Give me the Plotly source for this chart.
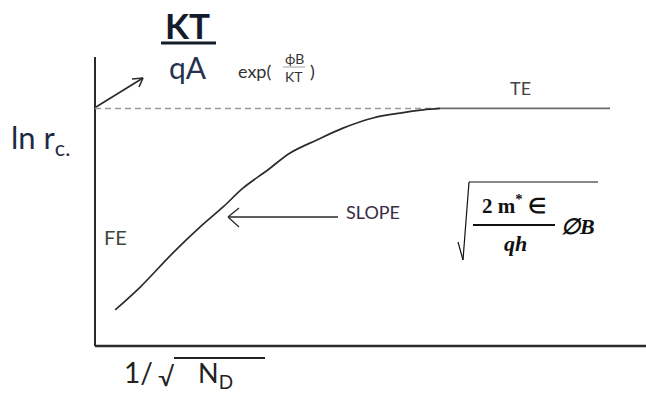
import plotly.graph_objects as go

# ---- data (arbitrary units: x = 1/sqrt(N_D), y = ln r_c) ----
fe_x = [0.37, 0.83, 1.43, 1.93, 2.35, 2.72, 3.17, 3.58, 4.07, 4.55, 5.10, 5.60, 6.02, 6.33]
fe_y = [1.25, 2.04, 3.22, 4.12, 4.81, 5.47, 6.09, 6.68, 7.13, 7.54, 7.89, 8.06, 8.17, 8.22]
te_x = [6.33, 9.45]
te_y = [8.22, 8.22]
ref_x = [0.0, 6.33]
ref_y = [8.22, 8.22]
axis_x_end = 10.2
axis_y_end = 10.0

W, H = 646, 394
SANS = "Lato"
SERIF = "Liberation Serif"


def px(x, y):
    """pixel position -> paper coordinates"""
    return x / W, 1 - y / H


fig = go.Figure()

# axes drawn as lines from the origin
fig.add_trace(go.Scatter(x=[0, 0], y=[axis_y_end, 0], mode="lines",
                         line=dict(color="#2a2a2a", width=2), hoverinfo="skip"))
fig.add_trace(go.Scatter(x=[0, axis_x_end], y=[0, 0], mode="lines",
                         line=dict(color="#2a2a2a", width=2.5), hoverinfo="skip"))

# saturation reference level (dashed) and thermionic plateau
fig.add_trace(go.Scatter(x=ref_x, y=ref_y, mode="lines",
                         line=dict(color="#9a9a9a", width=1.5, dash="6px,4px"), hoverinfo="skip"))
fig.add_trace(go.Scatter(x=te_x, y=te_y, mode="lines",
                         line=dict(color="#6a6a6a", width=1.8), hoverinfo="skip"))
# field-emission branch
fig.add_trace(go.Scatter(x=fe_x, y=fe_y, mode="lines", line_shape="spline",
                         line=dict(color="#2b2b2b", width=1.7), hoverinfo="skip"))

shapes = []
annotations = []


def seg(x0, y0, x1, y1, color="#2a2a2a", width=1.5):
    a, b = px(x0, y0)
    c, d = px(x1, y1)
    shapes.append(dict(type="line", xref="paper", yref="paper", x0=a, y0=b, x1=c, y1=d,
                       line=dict(color=color, width=width)))


def txt(s, x, y, size, color="#222", family=SANS, xanchor="center"):
    a, b = px(x, y)
    annotations.append(dict(text=s, xref="paper", yref="paper", x=a, y=b, showarrow=False,
                            xanchor=xanchor, yanchor="middle",
                            font=dict(size=size, color=color, family=family)))


# KT / qA prefactor
txt("<b>KT</b>", 188, 25, 35, color="#141c2c")
seg(161, 43, 216, 43, color="#141c2c", width=3)
txt("qA", 188, 67, 30, color="#263250")

# exp(phiB/KT)
txt("exp(", 254, 71, 18, color="#333")
txt("ϕB", 294, 58, 14, color="#333")
seg(283, 67, 305, 67, color="#888", width=0.8)
txt("KT", 294, 77, 14, color="#333")
txt(")", 312, 71, 18, color="#333")

# arrow from the axis to the prefactor
seg(96, 107, 143, 78, width=1.6)
seg(143, 78, 132, 79, width=1.6)
seg(143, 78, 139, 87, width=1.6)

# y label
txt("ln r<sub>c.</sub>", 40, 140, 31, color="#1e2a44")

# TE / FE labels
txt("TE", 520, 88, 18, color="#444")
txt("FE", 115, 237, 20, color="#3b4a38")

# slope pointer
seg(228, 217, 338, 217, width=1.3)
seg(228, 217, 239, 208, width=1.3)
seg(228, 217, 239, 227, width=1.3)
txt("SLOPE", 373, 212, 18, color="#3a2c44")

# slope expression sqrt(2 m* eps / (q h) * phiB)
seg(458, 242, 463, 260, color="#111", width=1.2)
seg(463, 260, 469, 182, color="#111", width=1.2)
seg(469, 182, 598, 182, color="#111", width=1.2)
txt("<b>2 m<sup>*</sup> ∈</b>", 514, 204, 21, color="#111", family=SERIF)
seg(473, 225, 555, 225, color="#111", width=2)
txt("<b><i>qh</i></b>", 515, 243, 22, color="#111", family=SERIF)
txt("<b><i>∅B</i></b>", 578, 226, 22, color="#111", family=SERIF)

# x label 1/sqrt(N_D)
txt("1/", 138, 372, 28, color="#222")
txt("√", 166, 376, 26, color="#222")
seg(174, 358, 265, 358, color="#222", width=2)
txt("N<sub>D</sub>", 215, 374, 27, color="#222")

fig.update_layout(
    width=W, height=H,
    margin=dict(l=0, r=0, t=0, b=0),
    paper_bgcolor="white", plot_bgcolor="white",
    showlegend=False,
    xaxis=dict(range=[-95 / 54.5, (W - 95) / 54.5], visible=False, fixedrange=True),
    yaxis=dict(range=[-(H - 346) / 28.9, 346 / 28.9], visible=False, fixedrange=True),
    shapes=shapes,
    annotations=annotations,
)

fig.write_html("out.html")
